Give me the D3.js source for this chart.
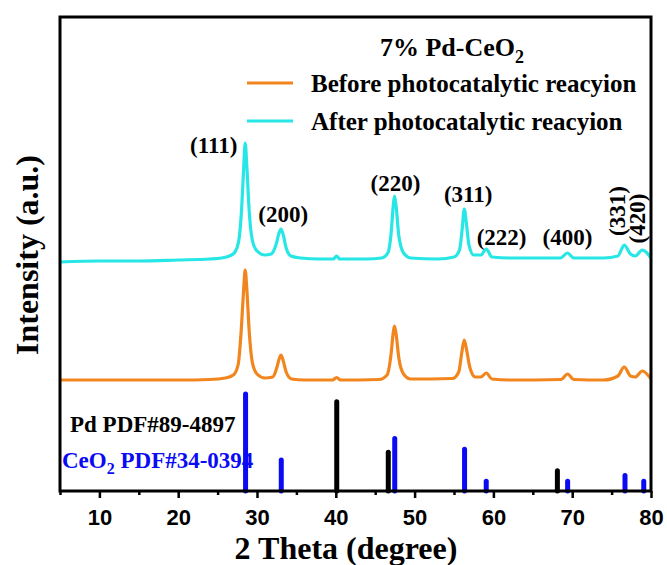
<!DOCTYPE html>
<html>
<head>
<meta charset="utf-8">
<script src="https://cdn.jsdelivr.net/npm/d3@7/dist/d3.min.js"></script>
<style>
  html, body { margin: 0; padding: 0; background: #fff; }
  svg { display: block; }
</style>
</head>
<body>
<svg id="chart" width="667" height="565"></svg>
<script>
// XRD patterns of 7% Pd-CeO2: [2θ (degree), intensity (a.u., stacked)]
const beforePattern = [
  [5, 111], [10, 111], [15, 111], [20, 111], [24, 111.5], [26, 113], [27, 116], [27.6, 126],
  [28.0, 161], [28.3, 201], [28.5, 221], [28.7, 203], [29.0, 161], [29.4, 129], [30.0, 117],
  [31.0, 113], [32.0, 114], [32.5, 123], [32.85, 133], [33.05, 136], [33.3, 131], [33.7, 119],
  [34.4, 112], [36, 111], [39.6, 111], [40.1, 113.5], [40.6, 111], [45.5, 111.5], [46.5, 116],
  [47.0, 136], [47.3, 159], [47.45, 165], [47.65, 157], [48.0, 133], [48.6, 117], [49.5, 112],
  [54.8, 112.5], [55.6, 119], [56.0, 139], [56.3, 151], [56.6, 141], [57.0, 124], [57.7, 114],
  [58.4, 114], [59.1, 118], [59.8, 112], [62, 111], [68.6, 111.5], [69.4, 117], [70.2, 111.5],
  [74, 111], [75.8, 115], [76.6, 124], [77.4, 115], [78.0, 114], [78.9, 120], [79.6, 116], [80, 112]
];
const afterPattern = [
  [5, 229], [10, 230], [15, 230], [20, 231], [24, 232], [25.5, 233], [26.5, 235], [27.2, 239],
  [27.7, 251], [28.0, 276], [28.3, 321], [28.5, 348], [28.7, 326], [29.0, 281], [29.4, 251],
  [30.0, 240], [31.0, 236], [31.8, 237], [32.4, 246], [32.8, 258], [33.05, 262], [33.3, 257],
  [33.7, 243], [34.3, 235], [35.5, 233], [38, 232], [39.7, 232], [40.1, 235], [40.5, 232],
  [44, 232], [45.8, 233], [46.6, 238], [47.0, 256], [47.3, 286], [47.45, 295], [47.65, 285],
  [48.0, 255], [48.6, 238], [49.5, 233], [53, 232], [55.0, 234], [55.7, 241], [56.05, 263],
  [56.3, 282], [56.55, 269], [56.9, 246], [57.5, 236], [58.4, 236], [59.1, 242], [59.8, 234],
  [62, 233], [68.5, 233], [69.4, 238], [70.2, 233], [74, 233], [75.8, 235], [76.6, 246],
  [77.4, 237], [78.0, 235], [78.9, 241], [79.5, 238], [80, 233]
];

// Standard reference patterns (relative intensity)
const ceo2Ref = [
  [28.55, 100], [33.08, 32], [47.48, 54], [56.34, 43], [59.09, 10], [69.42, 10], [76.70, 16], [79.08, 10]
];
const pdRef = [
  [40.12, 92], [46.66, 40], [68.12, 21]
];

// Miller indices of the CeO2 reflections (anchor in 2θ / intensity units)
const peakLabels = [
  { text: "(111)", x: 24.5, y: 346, rotate: false },
  { text: "(200)", x: 33.33, y: 277, rotate: false },
  { text: "(220)", x: 47.57, y: 308, rotate: false },
  { text: "(311)", x: 56.8, y: 297, rotate: false },
  { text: "(222)", x: 61.04, y: 254, rotate: false },
  { text: "(400)", x: 69.4, y: 254, rotate: false },
  { text: "(331)", x: 75.78, y: 280, rotate: true },
  { text: "(420)", x: 78.32, y: 272.5, rotate: true }
];

const seriesNames = ["Before photocatalytic reacyion", "After photocatalytic reacyion"];
const xTicks = [10, 20, 30, 40, 50, 60, 70, 80];
const xMinorTicks = [5, 15, 25, 35, 45, 55, 65, 75];

const colors = { before: "#f2861e", after: "#27e6e6", ceo2: "#0a0af5", pd: "#000000" };
const serif = "'Liberation Serif', 'Times New Roman', serif";
const sans = "'Liberation Sans', Arial, sans-serif";

const svg = d3.select("#chart");
const plot = { left: 60, right: 651, top: 17, bottom: 491 };

const x = d3.scaleLinear().domain([5, 80]).range([plot.left, plot.right]);
const y = d3.scaleLinear().domain([0, 474]).range([plot.bottom, plot.top]);
const yRef = d3.scaleLinear().domain([0, 100]).range([plot.bottom, 394]);

// Reference stick patterns
const sticks = svg.append("g");
sticks.selectAll("line.pd").data(pdRef).join("line")
  .attr("class", "pd")
  .attr("x1", d => x(d[0])).attr("x2", d => x(d[0]))
  .attr("y1", yRef(0)).attr("y2", d => yRef(d[1]))
  .attr("stroke", colors.pd).attr("stroke-width", 5).attr("stroke-linecap", "round");
sticks.selectAll("line.ceo2").data(ceo2Ref).join("line")
  .attr("class", "ceo2")
  .attr("x1", d => x(d[0])).attr("x2", d => x(d[0]))
  .attr("y1", yRef(0)).attr("y2", d => yRef(d[1]))
  .attr("stroke", colors.ceo2).attr("stroke-width", 5).attr("stroke-linecap", "round");

// Diffraction patterns
const line = d3.line().x(d => x(d[0])).y(d => y(d[1])).curve(d3.curveMonotoneX);
svg.append("path").datum(beforePattern)
  .attr("d", line).attr("fill", "none")
  .attr("stroke", colors.before).attr("stroke-width", 3.2).attr("stroke-linejoin", "round");
svg.append("path").datum(afterPattern)
  .attr("d", line).attr("fill", "none")
  .attr("stroke", colors.after).attr("stroke-width", 3.2).attr("stroke-linejoin", "round");

// Peak index labels
const lbl = svg.append("g")
  .attr("font-family", serif).attr("font-weight", "bold").attr("font-size", 23)
  .attr("fill", "#000");
peakLabels.forEach(p => {
  const t = lbl.append("text").text(p.text).attr("text-anchor", "middle")
    .attr("dominant-baseline", "central");
  if (p.rotate) {
    t.attr("transform", `translate(${x(p.x)},${y(p.y)}) rotate(-90)`);
  } else {
    t.attr("x", x(p.x)).attr("y", y(p.y));
  }
});

// Reference pattern labels
const refText = svg.append("g").attr("font-family", serif).attr("font-weight", "bold").attr("font-size", 23);
refText.append("text").attr("x", 70).attr("y", 432).attr("fill", colors.pd).text("Pd PDF#89-4897");
const ceT = refText.append("text").attr("x", 62).attr("y", 468).attr("fill", colors.ceo2);
ceT.append("tspan").text("CeO");
ceT.append("tspan").attr("font-size", 16).attr("dy", 6).text("2");
ceT.append("tspan").attr("dy", -6).text(" PDF#34-0394");

// Frame
svg.append("rect")
  .attr("x", plot.left).attr("y", plot.top)
  .attr("width", plot.right - plot.left).attr("height", plot.bottom - plot.top)
  .attr("fill", "none").attr("stroke", "#000").attr("stroke-width", 3);

// X axis
const xAxis = d3.axisBottom(x).tickValues(xTicks).tickSize(7).tickSizeOuter(0).tickPadding(11);
const gx = svg.append("g").attr("transform", `translate(0,${plot.bottom})`).call(xAxis);
gx.select(".domain").remove();
gx.selectAll(".tick line").attr("stroke-width", 2.5);
gx.selectAll(".tick text")
  .attr("font-family", sans).attr("font-weight", "bold").attr("font-size", 22).attr("fill", "#000");
const xMinor = d3.axisBottom(x).tickValues(xMinorTicks).tickSize(4).tickFormat("");
const gxm = svg.append("g").attr("transform", `translate(0,${plot.bottom})`).call(xMinor);
gxm.select(".domain").remove();
gxm.selectAll(".tick line").attr("stroke-width", 2.5);

// Axis titles
svg.append("text")
  .attr("x", 346).attr("y", 559)
  .attr("text-anchor", "middle")
  .attr("font-family", serif).attr("font-weight", "bold").attr("font-size", 32)
  .text("2 Theta (degree)");
svg.append("text")
  .attr("transform", `translate(38,255) rotate(-90)`)
  .attr("text-anchor", "middle")
  .attr("font-family", serif).attr("font-weight", "bold").attr("font-size", 32)
  .text("Intensity (a.u.)");

// Legend
const legend = svg.append("g").attr("font-family", serif).attr("font-weight", "bold").attr("font-size", 25);
const title = legend.append("text").attr("x", 452).attr("y", 56).attr("text-anchor", "middle")
  .attr("font-size", 26);
title.append("tspan").text("7% Pd-CeO");
title.append("tspan").attr("font-size", 18).attr("dy", 7).text("2");
[ { name: seriesNames[0], color: colors.before, cy: 83 },
  { name: seriesNames[1], color: colors.after, cy: 121 } ].forEach(item => {
  legend.append("line")
    .attr("x1", 247).attr("x2", 293).attr("y1", item.cy).attr("y2", item.cy)
    .attr("stroke", item.color).attr("stroke-width", 3.2);
  legend.append("text").attr("x", 311).attr("y", item.cy)
    .attr("dominant-baseline", "central").text(item.name);
});
</script>
</body>
</html>
